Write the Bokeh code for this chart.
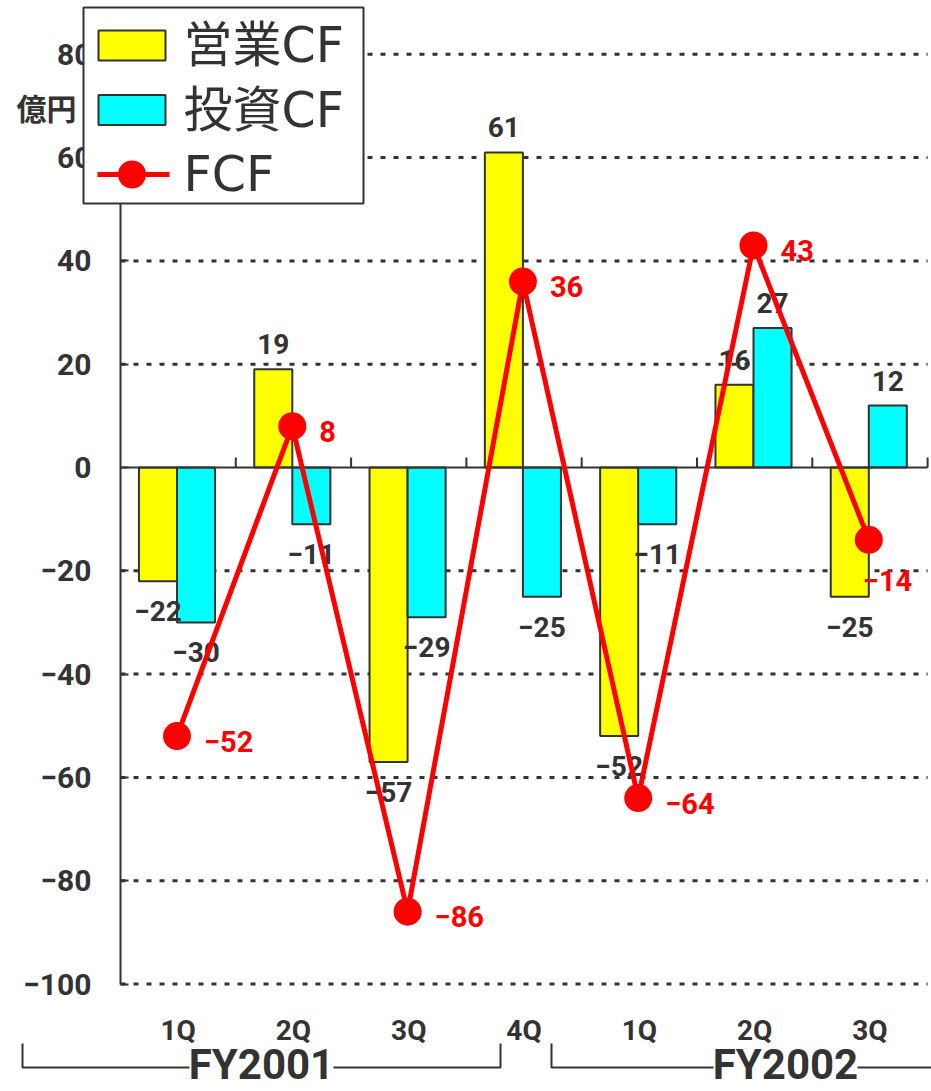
from bokeh.plotting import figure
from bokeh.models import Range1d, LinearAxis, FixedTicker
from bokeh.core.properties import value
from bokeh.embed import file_html
from bokeh.resources import INLINE

# ---- data -------------------------------------------------------------
QUARTERS = ["1Q", "2Q", "3Q", "4Q", "1Q", "2Q", "3Q"]
GROUPS = ["FY2001", "FY2002"]
OPERATING_CF = [-22, 19, -57, 61, -52, 16, -25]   # 営業CF
INVESTING_CF = [-30, -11, -29, -25, -11, 27, 12]  # 投資CF
FREE_CF = [-52, 8, -86, 36, -64, 43, -14]         # FCF
SERIES = ["営業CF", "投資CF", "FCF"]
Y_TICKS = [-100, -80, -60, -40, -20, 0, 20, 40, 60, 80]
UNIT = "億円"

# ---- page geometry (pixels) ---------------------------------------------
W, H = 931, 1091
AXIS_X_PX = 120      # where the value axis sits
ZERO_Y_PX = 467      # where the value 0 sits
CAT_PX = 115.3       # width of one quarter slot
UNIT_PX = 5.165      # pixels per 億円

DARK = "#333333"
YELLOW = "#FFFF00"
CYAN = "#00FFFF"
RED = "#FF0000"
NUM_FONT = value("Roboto")
JP_FONT = value("Noto Sans CJK JP")
LEGEND_FONT = value("DejaVu Sans, Noto Sans CJK JP")


def xd(px):
    return (px - AXIS_X_PX) / CAT_PX


def yd(px):
    return (ZERO_Y_PX - px) / UNIT_PX


def dx(px):
    return px / CAT_PX


def dy(px):
    return px / UNIT_PX


def minus(v):
    return str(v).replace("-", "\u2212")


n = len(QUARTERS)

p = figure(
    width=W, height=H,
    x_range=Range1d(xd(0), xd(W)), y_range=Range1d(yd(H), yd(0)),
    x_axis_type=None, y_axis_type=None,
    output_backend="svg", toolbar_location=None,
    min_border=0, min_border_left=0, min_border_right=0,
    min_border_top=0, min_border_bottom=0,
    outline_line_color=None,
    background_fill_color="white", border_fill_color="white",
)

# dotted horizontal guides at every tick except the zero line
grid_vals = [t for t in Y_TICKS if t != 0]
p.multi_line(xs=[[0, n] for _ in grid_vals], ys=[[t, t] for t in grid_vals],
             line_color=DARK, line_width=3, line_dash="5 8", level="underlay")

# bars
BAR_W = 0.33
op_x = [i + 0.325 for i in range(n)]
inv_x = [i + 0.655 for i in range(n)]
p.vbar(x=op_x, bottom=0, top=OPERATING_CF, width=BAR_W,
       fill_color=YELLOW, line_color=DARK, line_width=2)
p.vbar(x=inv_x, bottom=0, top=INVESTING_CF, width=BAR_W,
       fill_color=CYAN, line_color=DARK, line_width=2)

# zero line with short separators between quarters
p.segment(x0=[0], y0=[0], x1=[n], y1=[0], line_color=DARK, line_width=2)
p.segment(x0=list(range(1, n + 1)), y0=[0] * n,
          x1=list(range(1, n + 1)), y1=[dy(10)] * n,
          line_color=DARK, line_width=2)


def bar_label_y(v):
    return v + dy(25) if v > 0 else v - dy(30)


p.text(x=op_x + inv_x,
       y=[bar_label_y(v) for v in OPERATING_CF + INVESTING_CF],
       text=[minus(v) for v in OPERATING_CF + INVESTING_CF],
       text_align="center", text_baseline="middle",
       text_font=NUM_FONT, text_font_style="bold", text_font_size="28px",
       text_color=DARK)

# free cash flow line
fcf_x = [i + 0.49 for i in range(n)]
p.line(fcf_x, FREE_CF, line_color=RED, line_width=5)
p.scatter(fcf_x, FREE_CF, size=28, fill_color=RED, line_color=None)

fcf_dx_px = [27, 27, 27, 27, 27, 27, -6]
fcf_dy_px = [5, 5, 5, 5, 5, 5, 41]
p.text(x=[x + dx(o) for x, o in zip(fcf_x, fcf_dx_px)],
       y=[v - dy(o) for v, o in zip(FREE_CF, fcf_dy_px)],
       text=[minus(v) for v in FREE_CF],
       text_align="left", text_baseline="middle",
       text_font=NUM_FONT, text_font_style="bold", text_font_size="29px",
       text_color=RED)

# value axis
y_axis = LinearAxis(
    fixed_location=0, bounds=(Y_TICKS[0], Y_TICKS[-1]),
    ticker=FixedTicker(ticks=Y_TICKS),
    major_label_overrides={t: minus(t) for t in Y_TICKS},
    axis_line_color=DARK, axis_line_width=2,
    major_tick_in=8, major_tick_out=0,
    major_tick_line_color=DARK, major_tick_line_width=2,
    minor_tick_in=0, minor_tick_out=0,
    major_label_standoff=29,
    major_label_text_font="Roboto", major_label_text_font_style="bold",
    major_label_text_font_size="30px", major_label_text_color=DARK,
)
p.add_layout(y_axis, "left")

# quarter names under the plot
centers = [i + 0.5 for i in range(n)]
cat_axis = LinearAxis(
    fixed_location=Y_TICKS[0],
    ticker=FixedTicker(ticks=centers),
    major_label_overrides={c: q for c, q in zip(centers, QUARTERS)},
    axis_line_color=None,
    major_tick_in=0, major_tick_out=0, minor_tick_in=0, minor_tick_out=0,
    major_label_standoff=30,
    major_label_text_font="Roboto", major_label_text_font_style="bold",
    major_label_text_font_size="28px", major_label_text_color=DARK,
)
p.add_layout(cat_axis, "below")

# fiscal-year brackets
bracket_spans = [(xd(22), xd(500)), (xd(551), xd(1019))]
b_top, b_bot = yd(1043), yd(1067)
gap = dx(72)
xs, ys = [], []
for lo, hi in bracket_spans:
    mid = (lo + hi) / 2
    xs += [[lo, lo, mid - gap], [mid + gap, hi, hi]]
    ys += [[b_top, b_bot, b_bot], [b_bot, b_bot, b_top]]
p.multi_line(xs=xs, ys=ys, line_color=DARK, line_width=2)
p.text(x=[(lo + hi) / 2 for lo, hi in bracket_spans], y=[yd(1064)] * len(GROUPS),
       text=GROUPS, text_align="center", text_baseline="middle",
       text_font=NUM_FONT, text_font_style="bold", text_font_size="42px",
       text_color=DARK)

# unit caption
p.text(x=[xd(46)], y=[yd(106)], text=[UNIT], text_align="center",
       text_baseline="middle", text_font=JP_FONT, text_font_style="bold",
       text_font_size="30px", text_color=DARK)

# legend box, drawn above the axis
LEG_L, LEG_T, LEG_R, LEG_B = 83, 7, 363, 203
ROW0, PITCH = 45, 64.5
SW_L, SW_R, SW_H = 98, 165, 30
rows = [ROW0 + k * PITCH for k in range(len(SERIES))]
p.quad(left=[xd(LEG_L)], right=[xd(LEG_R)], top=[yd(LEG_T)], bottom=[yd(LEG_B)],
       fill_color="white", line_color=DARK, line_width=2, level="annotation")
p.quad(left=[xd(SW_L)] * 2, right=[xd(SW_R)] * 2,
       top=[yd(r - SW_H / 2) for r in rows[:2]],
       bottom=[yd(r + SW_H / 2) for r in rows[:2]],
       fill_color=[YELLOW, CYAN], line_color=DARK, line_width=2,
       level="annotation")
p.line([xd(SW_L - 1), xd(SW_R + 4)], [yd(rows[2])] * 2,
       line_color=RED, line_width=5, level="annotation")
p.scatter([xd((SW_L + SW_R) / 2)], [yd(rows[2])], size=28,
          fill_color=RED, line_color=None, level="annotation")
p.text(x=[xd(183)] * len(SERIES), y=[yd(r) for r in rows], text=SERIES,
       text_align="left", text_baseline="middle",
       text_font=LEGEND_FONT, text_font_size="49px", text_color=DARK,
       level="annotation")

open("out.html", "w").write(file_html(p, INLINE))
